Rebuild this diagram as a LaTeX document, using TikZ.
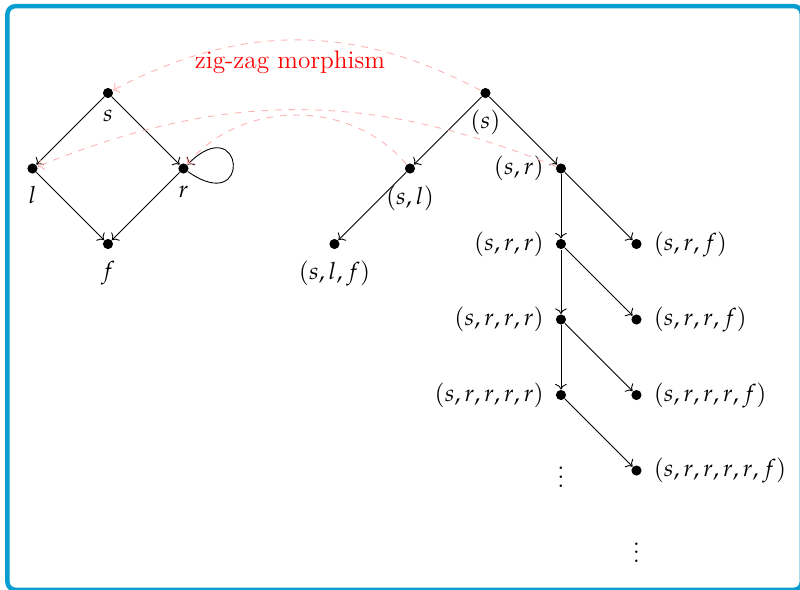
\documentclass[tikz,border=0pt]{standalone}
\usepackage{mathpazo}
\usetikzlibrary{arrows.meta}
\definecolor{framecol}{RGB}{10,158,208}
\begin{document}
\fontsize{10.6}{13}\selectfont
\begin{tikzpicture}[x=1.185cm, y=1.185cm, label distance=1.5pt,
    >={Computer Modern Rightarrow},
    pt/.style={circle, fill, inner sep=1.6pt},
    zz/.style={->, dashed, red!30}]
    \useasboundingbox (-1.430,1.232) rectangle (9.166,-6.570);
    \draw[framecol, line width=2pt, rounded corners=3.5pt] (-1.331,1.150) rectangle (9.19,-6.58);

    % the graph
    \node[pt, label=below:$s$] (s) at (0,0) {};
    \node[pt, label=below:$l$] (l) at (-1,-1) {};
    \node[pt, label=below:$r$] (r) at (1,-1) {};
    \node[pt, label=below:$f$] (f) at (0,-2) {};

    \draw[->] (s) -- (l);
    \draw[->] (s) -- (r);
    \draw[->] (l) -- (f);
    \draw[->] (r) -- (f);
    \draw[->] (r) to[out=-35, in=45, min distance=1.25cm] (r);

    % its unravelling
    \node[pt, label=below:{$(s)$}] (t) at (5,0) {};
    \node[pt, label=below:{$(s,l)$}] (tl) at (4,-1) {};
    \node[pt, label=below:{$(s,l,f)$}] (tlf) at (3,-2) {};
    \node[pt, label=left:{$(s,r)$}] (tr) at (6,-1) {};
    \node[pt, label=left:{$(s,r,r)$}] (trr) at (6,-2) {};
    \node[pt, label=left:{$(s,r,r,r)$}] (trrr) at (6,-3) {};
    \node[pt, label=left:{$(s,r,r,r,r)$}] (trrrr) at (6,-4) {};
    \node[pt, label=right:{$(s,r,f)$}] (trf) at (7,-2) {};
    \node[pt, label=right:{$(s,r,r,f)$}] (trrf) at (7,-3) {};
    \node[pt, label=right:{$(s,r,r,r,f)$}] (trrrf) at (7,-4) {};
    \node[pt, label=right:{$(s,r,r,r,r,f)$}] (trrrrf) at (7,-5) {};
    \node (dots1) at (6,-5) {$\vdots$};
    \node (dots2) at (7,-6) {$\vdots$};

    \draw[->] (t) -- (tl);
    \draw[->] (tl) -- (tlf);
    \draw[->] (t) -- (tr);
    \draw[->] (tr) -- (trr);
    \draw[->] (trr) -- (trrr);
    \draw[->] (trrr) -- (trrrr);
    \draw[->] (tr) -- (trf);
    \draw[->] (trr) -- (trrf);
    \draw[->] (trrr) -- (trrrf);
    \draw[->] (trrrr) -- (trrrrf);

    % zig-zag morphism
    \draw[zz] (t) to[bend right=28] (s);
    \draw[zz] (tr) to[bend right=22] (l);
    \draw[zz] (tl) to[bend right=50] (r);
    \node[red, font=\fontsize{11.3}{13}\selectfont] (zzm) at (2.41,0.41) {zig-zag morphism};
\end{tikzpicture}
\end{document}
